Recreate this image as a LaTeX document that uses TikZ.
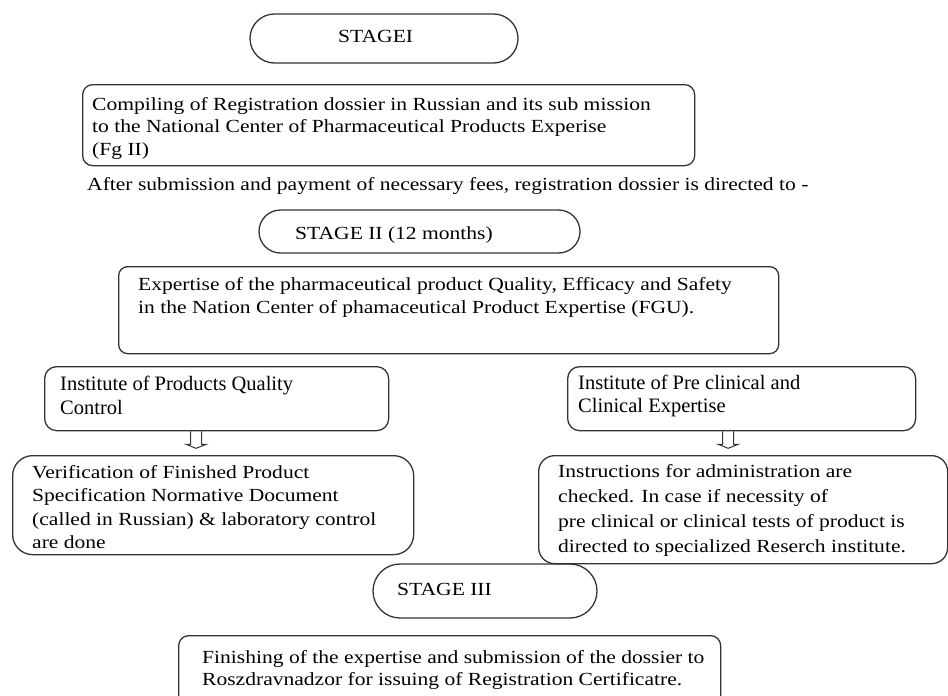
\documentclass[tikz,border=0pt]{standalone}
\usepackage{fontspec}
\setmainfont{Liberation Serif}[FakeStretch=1.165]
\newfontfamily\condfont{Liberation Serif}
\usetikzlibrary{shapes.misc,calc}
\newcommand{\fs}[1]{\fontsize{18.5}{#1}\selectfont}
\newcommand{\cfs}[1]{\condfont\fontsize{20.5}{#1}\selectfont}
\tikzset{
  x=1pt, y=-1pt,
  frame/.style={draw=black!80, line width=1.3pt, rounded corners=#1, inner sep=0pt, anchor=north west},
  frame/.default=10pt,
  oval/.style={draw=black!80, line width=1.3pt, rounded rectangle, inner sep=0pt},
  txt/.style={anchor=base west, align=left, inner sep=0pt, font=\fs{#1}, text=black},
  txt/.default=22.5pt,
  ctxt/.style={anchor=base west, align=left, inner sep=0pt, font=\cfs{#1}, text=black},
  conn/.style={draw=black!80, line width=1pt, line join=miter},
}
\begin{document}
\begin{tikzpicture}
\useasboundingbox (0,0) rectangle (948,696);
% Stage I
\node[oval, minimum width=268pt, minimum height=49pt] (s1) at (384,38.5) {};
\node[txt] (s1t) at (338,42) {STAGEI};
% Box 1 (base = last line)
\node[frame=10pt, minimum width=612pt, minimum height=81pt] (b1) at (82,84) {};
\node[txt=22.5pt] (b1t) at (92,155) {Compiling of Registration dossier in Russian and its sub mission\\to the National Center of Pharmaceutical Products Experise\\(Fg II)};
% note
\node[txt] (n1) at (87,190) {After submission and payment of necessary fees, registration dossier is directed to -};
% Stage II
\node[oval, minimum width=321pt, minimum height=43pt] (s2) at (419.5,231.5) {};
\node[txt] (s2t) at (295,239) {STAGE II (12 months)};
% Box 2
\node[frame=9pt, minimum width=660pt, minimum height=87pt] (b2) at (118,266) {};
\node[txt=23pt] (b2t) at (138,313) {Expertise of the pharmaceutical product Quality, Efficacy and Safety\\in the Nation Center of phamaceutical Product Expertise (FGU).};
% Box 3 and 4
\node[frame=12pt, minimum width=344pt, minimum height=64pt] (b3) at (44,366) {};
\node[ctxt=24pt] (b3t) at (60,414) {Institute of Products Quality\\Control};
\node[frame=12pt, minimum width=348pt, minimum height=64pt] (b4) at (567,366) {};
\node[ctxt=23pt] (b4t) at (578,412) {Institute of Pre clinical and\\Clinical Expertise};
% Box 5 and 6
\node[frame=20pt, minimum width=401pt, minimum height=99pt] (b5) at (12,455) {};
\node[txt=23.5pt] (b5t) at (32,548.5) {Verification of Finished Product\\Specification Normative Document\\(called in Russian) \& laboratory control\\are done};
\node[frame=16pt, minimum width=409pt, minimum height=108pt] (b6) at (538,455) {};
\node[txt=24.7pt] (b6t) at (558,552) {Instructions for administration are\\checked. In case if necessity of\\pre clinical or clinical tests of product is\\directed to specialized Reserch institute.};
% hollow arrows
\draw[conn] ($(b3.south)+(-26,0)$) -- ++(0,13) -- ++(-4.5,0) -- ++(10,4) -- ++(10,-4) -- ++(-4.5,0) -- ++(0,-13);
\draw[conn] ($(b4.south)+(-19,0)$) -- ++(0,13) -- ++(-4.5,0) -- ++(10,4) -- ++(10,-4) -- ++(-4.5,0) -- ++(0,-13);
% Stage III
\node[oval, minimum width=224pt, minimum height=54pt] (s3) at (485,591) {};
\node[txt] (s3t) at (397,595) {STAGE III};
% Box 7
\node[frame=10pt, minimum width=542pt, minimum height=90pt] (b7) at (178,635) {};
\node[txt=22pt] (b7t) at (202,685) {Finishing of the expertise and submission of the dossier to\\Roszdravnadzor for issuing of Registration Certificatre.};
\end{tikzpicture}
\end{document}
